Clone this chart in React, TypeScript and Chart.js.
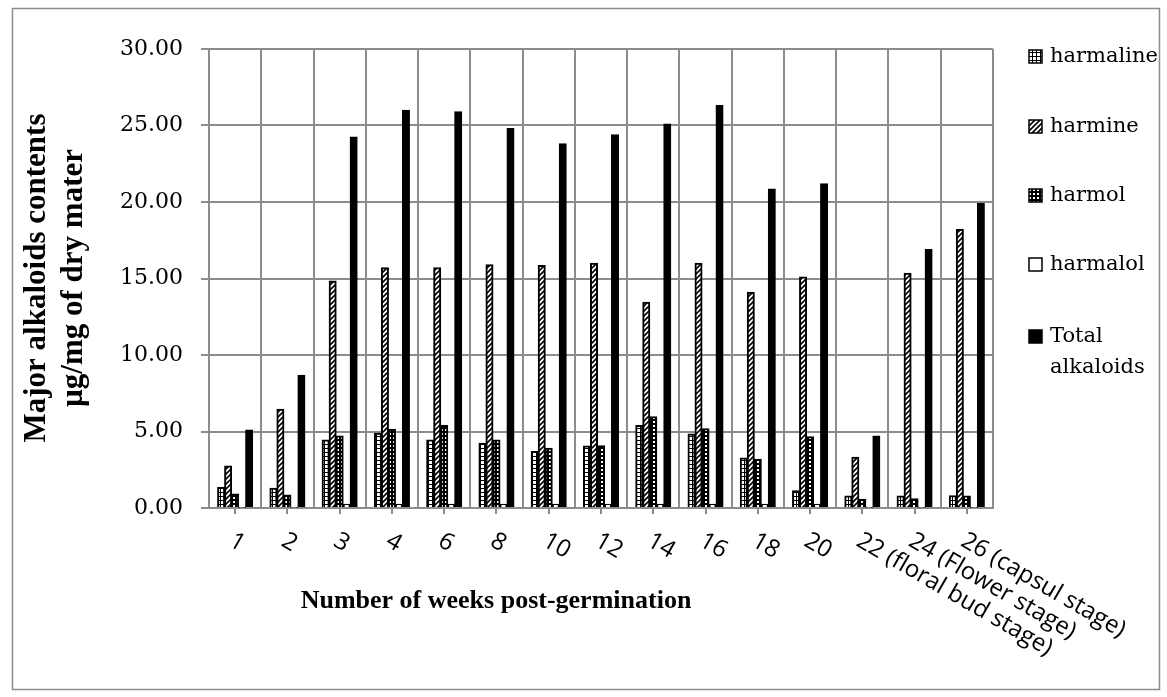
import React, { useEffect, useRef } from "react";
import { Chart, registerables } from "chart.js";

Chart.register(...registerables);

const weeks = ["1", "2", "3", "4", "6", "8", "10", "12", "14", "16", "18", "20", "22 (floral bud stage)", "24 (Flower stage)", "26 (capsul stage)"];
const harmaline = [1.35, 1.29, 4.44, 4.88, 4.44, 4.23, 3.7, 4.05, 5.4, 4.84, 3.27, 1.13, 0.78, 0.78, 0.8];
const harmine = [2.75, 6.45, 14.84, 15.7, 15.7, 15.9, 15.85, 16.0, 13.45, 16.0, 14.1, 15.1, 3.31, 15.35, 18.2];
const harmol = [0.92, 0.85, 4.7, 5.14, 5.4, 4.44, 3.9, 4.07, 5.97, 5.18, 3.18, 4.66, 0.57, 0.61, 0.78];
const harmalol = [0.05, 0.05, 0.25, 0.25, 0.25, 0.25, 0.25, 0.25, 0.25, 0.25, 0.25, 0.25, 0.05, 0.05, 0.05];
const totalAlkaloids = [5.1, 8.67, 24.25, 26.0, 25.9, 24.8, 23.8, 24.4, 25.1, 26.3, 20.85, 21.2, 4.7, 16.9, 19.9];
const seriesNames = ["harmaline", "harmine", "harmol", "harmalol", "Total alkaloids"];
const yMin = 0;
const yMax = 30;
const yStep = 5;
const xTitle = "Number of weeks post-germination";
const yTitleLines = ["Major alkaloids contents", "µg/mg of dry mater"];

const GRID = "#8c8c8c";

function makePattern(w: number, h: number, draw: (g: CanvasRenderingContext2D) => void) {
  const c = document.createElement("canvas");
  c.width = w;
  c.height = h;
  const g = c.getContext("2d")!;
  draw(g);
  return g.createPattern(c, "repeat")!;
}

export default function App() {
  const ref = useRef<HTMLCanvasElement>(null);

  useEffect(() => {
    const canvas = ref.current!;
    const pHarmaline = makePattern(4, 4, (g) => {
      g.fillStyle = "#fff";
      g.fillRect(0, 0, 4, 4);
      g.fillStyle = "#000";
      g.fillRect(0, 0, 4, 1);
      g.fillRect(0, 0, 1, 4);
    });
    const pHarmine = makePattern(5, 5, (g) => {
      g.fillStyle = "#fff";
      g.fillRect(0, 0, 5, 5);
      g.strokeStyle = "#000";
      g.lineWidth = 1.6;
      g.beginPath();
      g.moveTo(-1, 6);
      g.lineTo(6, -1);
      g.moveTo(-3, 3);
      g.lineTo(3, -3);
      g.moveTo(2, 8);
      g.lineTo(8, 2);
      g.stroke();
    });
    const pHarmol = makePattern(4, 4, (g) => {
      g.fillStyle = "#000";
      g.fillRect(0, 0, 4, 4);
      g.fillStyle = "#fff";
      g.fillRect(1, 1, 2, 2);
    });
    const fills: (string | CanvasPattern)[] = [pHarmaline, pHarmine, pHarmol, "#ffffff", "#000000"];
    const seriesData = [harmaline, harmine, harmol, harmalol, totalAlkaloids];

    const decor = {
      id: "decor",
      afterDraw(chart: any) {
        const ctx: CanvasRenderingContext2D = chart.ctx;
        const xs = chart.scales.x;
        const area = chart.chartArea;
        ctx.save();
        // x tick marks at category centres
        ctx.strokeStyle = GRID;
        ctx.lineWidth = 2;
        for (let i = 0; i < weeks.length; i++) {
          const x = Math.round(xs.getPixelForTick(i));
          ctx.beginPath();
          ctx.moveTo(x, area.bottom);
          ctx.lineTo(x, area.bottom + 6);
          ctx.stroke();
        }
        // rotated x labels
        ctx.fillStyle = "#000";
        ctx.font = "24px 'Open Sans'";
        ctx.textAlign = "left";
        ctx.textBaseline = "middle";
        for (let i = 0; i < weeks.length; i++) {
          const x = xs.getPixelForTick(i);
          ctx.save();
          ctx.translate(x - 4, area.bottom + 31);
          ctx.rotate((30 * Math.PI) / 180);
          ctx.fillText(weeks[i], 0, 0);
          ctx.restore();
        }
        // x title
        ctx.font = "bold 26px 'Liberation Serif'";
        ctx.textAlign = "center";
        ctx.textBaseline = "alphabetic";
        ctx.fillText(xTitle, 496, 608);
        // y title
        ctx.save();
        ctx.translate(0, 278);
        ctx.rotate(-Math.PI / 2);
        ctx.font = "bold 31px 'Liberation Serif'";
        ctx.textAlign = "center";
        ctx.fillText(yTitleLines[0], 0, 45);
        ctx.fillText(yTitleLines[1], 0, 82);
        ctx.restore();
        // legend
        const legendY = [57, 127, 196, 265, 337];
        ctx.font = "21px 'DejaVu Serif'";
        ctx.textAlign = "left";
        ctx.textBaseline = "middle";
        for (let i = 0; i < seriesNames.length; i++) {
          const y = legendY[i];
          ctx.fillStyle = fills[i] as any;
          ctx.fillRect(1029, y - 7, 13, 13);
          ctx.strokeStyle = "#000";
          ctx.lineWidth = 1.5;
          ctx.strokeRect(1029, y - 7, 13, 13);
          ctx.fillStyle = "#000";
          const parts = seriesNames[i] === "Total alkaloids" ? ["Total", "alkaloids"] : [seriesNames[i]];
          parts.forEach((p, k) => ctx.fillText(p, 1050, y + k * 31));
        }
        // outer border
        ctx.strokeStyle = GRID;
        ctx.lineWidth = 1.5;
        ctx.strokeRect(12.5, 8.5, 1147, 681);
        ctx.restore();
      },
    };

    const chart = new Chart(canvas, {
      type: "bar",
      data: {
        labels: weeks,
        datasets: seriesNames.map((name, i) => ({
          label: name,
          data: seriesData[i],
          backgroundColor: fills[i] as any,
          borderColor: "#000",
          borderWidth: 2,
          inflateAmount: 0.5,
          categoryPercentage: 0.67,
          barPercentage: 1.0,
        })),
      },
      options: {
        responsive: false,
        animation: false,
        layout: { padding: { left: 0, right: 174, top: 49, bottom: 0 } },
        plugins: { legend: { display: false }, tooltip: { enabled: false } },
        scales: {
          x: {
            grid: { color: GRID, lineWidth: 2, offset: true, drawTicks: false },
            border: { color: GRID, width: 2 },
            ticks: { display: false },
            afterFit: (s: any) => {
              s.height = 189;
            },
          },
          y: {
            min: yMin,
            max: yMax,
            grid: { color: GRID, lineWidth: 2, tickLength: 8 },
            border: { color: GRID, width: 2 },
            ticks: {
              stepSize: yStep,
              padding: 18,
              color: "#000",
              font: { family: "'DejaVu Serif'", size: 22 },
              callback: (v: any) => Number(v).toFixed(2),
            },
            afterFit: (s: any) => {
              s.width = 209;
            },
          },
        },
      },
      plugins: [decor],
    });
    return () => chart.destroy();
  }, []);

  return (
    <div style={{ position: "absolute", left: 0, top: 0, width: 1167, height: 697, background: "#fff" }}>
      <canvas ref={ref} width={1167} height={697} style={{ display: "block" }} />
    </div>
  );
}
